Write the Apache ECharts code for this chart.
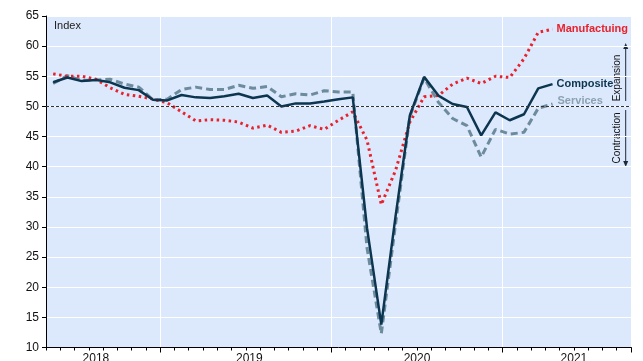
<!DOCTYPE html>
<html>
<head>
<meta charset="utf-8">
<script src="https://cdn.jsdelivr.net/npm/echarts@6/dist/echarts.min.js"></script>
<style>
  html, body {margin: 0; padding: 0; background: #fff;}
  #chart {width: 643px; height: 361px;}
</style>
</head>
<body>
<div id="chart"></div>
<script>
  // months on the axis: May 2018 .. Sep 2021 (data runs to Apr 2021)
  const months = [];
  for (let i = 0; i < 41; i++) {
    const m = (4 + i) % 12 + 1;
    const y = 2018 + Math.floor((4 + i) / 12);
    months.push(y + '-' + (m < 10 ? '0' + m : m));
  }

  const manufacturing = [55.4, 55.0, 55.0, 54.5, 53.1, 52.0, 51.7, 51.2, 50.6, 49.1, 47.6, 47.8,
    47.7, 47.4, 46.4, 46.9, 45.7, 45.9, 46.8, 46.2, 47.7, 49.1, 44.4, 33.7,
    39.4, 47.4, 51.6, 51.8, 53.7, 54.7, 53.8, 55.0, 54.8, 57.9, 62.3, 62.8];
  const composite = [54.0, 54.8, 54.2, 54.4, 54.0, 53.1, 52.7, 51.1, 51.0, 51.9, 51.5, 51.4,
    51.7, 52.1, 51.4, 51.8, 50.0, 50.5, 50.5, 50.8, 51.2, 51.5, 29.8, 13.8,
    31.8, 48.5, 54.9, 51.8, 50.4, 49.9, 45.2, 49.0, 47.7, 48.7, 53.0, 53.7];
  const services = [53.8, 55.1, 54.3, 54.4, 54.5, 53.7, 53.2, 51.1, 51.2, 52.8, 53.2, 52.8,
    52.8, 53.5, 53.0, 53.3, 51.6, 52.1, 51.9, 52.6, 52.4, 52.4, 26.5, 12.3,
    30.5, 48.3, 54.7, 50.7, 48.0, 46.8, 41.6, 46.2, 45.4, 45.7, 49.7, 50.4];

  const yearLabels = {'3.5': '2018', '14.25': '2019', '26': '2020', '37': '2021'};
  const yearStarts = [8, 20, 32];

  const font = 'Liberation Sans, Arial, sans-serif';
  const arrowColor = '#1c2b3a';

  const option = {
    animation: false,
    backgroundColor: '#ffffff',
    grid: {
      left: 46, top: 16, width: 585, height: 331.5,
      outerBoundsMode: 'none',
      show: true, backgroundColor: '#dce8fb', borderWidth: 0
    },
    xAxis: [
      {
        type: 'category',
        data: months,
        boundaryGap: true,
        axisLine: {show: true, lineStyle: {color: '#000', width: 1}},
        axisTick: {show: true, interval: 0, length: 3, lineStyle: {color: '#000'}},
        axisLabel: {show: false},
        splitLine: {
          show: true,
          interval: (idx) => yearStarts.indexOf(idx) >= 0,
          lineStyle: {color: '#ffffff', width: 1}
        }
      },
      {
        type: 'category',
        data: months,
        boundaryGap: true,
        position: 'bottom',
        axisLine: {show: false},
        axisTick: {
          show: true,
          interval: (idx) => yearStarts.indexOf(idx) >= 0,
          length: 5,
          lineStyle: {color: '#000'}
        },
        axisLabel: {show: false},
        splitLine: {show: false}
      },
      {
        type: 'value',
        min: 0, max: 41, interval: 0.25,
        position: 'bottom',
        axisLine: {show: false},
        axisTick: {show: false},
        splitLine: {show: false},
        axisLabel: {
          show: true, margin: 5, color: '#111', fontSize: 12, fontFamily: font,
          formatter: (v) => {
            for (const k in yearLabels) {
              if (Math.abs(v - parseFloat(k)) < 0.01) return yearLabels[k];
            }
            return '';
          }
        }
      }
    ],
    yAxis: {
      type: 'value',
      min: 10, max: 65, interval: 5,
      axisLine: {show: true, lineStyle: {color: '#000', width: 1}},
      axisTick: {show: true, length: 4, lineStyle: {color: '#000'}},
      axisLabel: {color: '#111', fontSize: 12, fontFamily: font, margin: 7},
      splitLine: {show: true, lineStyle: {color: '#ffffff', width: 1}}
    },
    series: [
      {
        name: 'Services',
        type: 'line',
        data: services,
        symbol: 'none',
        lineStyle: {color: '#6c8b9d', width: 3, type: [7, 4]},
        endLabel: {
          show: true, formatter: '{a}', color: '#8ba2b3', fontWeight: 'bold',
          fontSize: 11, fontFamily: font, distance: 5, offset: [0, -3]
        },
        markLine: {
          silent: true,
          symbol: 'none',
          label: {show: false},
          lineStyle: {color: '#333', width: 1, type: [3, 2]},
          data: [{yAxis: 50}]
        }
      },
      {
        name: 'Manufactuing',
        type: 'line',
        data: manufacturing,
        symbol: 'none',
        lineStyle: {color: '#e8222c', width: 3, type: [2.5, 3.5]},
        endLabel: {
          show: true, formatter: '{a}', color: '#e8222c', fontWeight: 'bold',
          fontSize: 11, fontFamily: font, distance: 4
        }
      },
      {
        name: 'Composite',
        type: 'line',
        data: composite,
        symbol: 'none',
        lineStyle: {color: '#0c3550', width: 2.5},
        endLabel: {
          show: true, formatter: '{a}', color: '#0c3550', fontWeight: 'bold',
          fontSize: 11, fontFamily: font, distance: 4
        }
      }
    ],
    graphic: [
      {
        type: 'text', left: 54, top: 20,
        style: {text: 'Index', font: '11px ' + font, fill: '#222'}
      },
      // Expansion / Contraction markers on the right
      {
        type: 'line', shape: {x1: 625.7, y1: 101, x2: 625.7, y2: 47},
        style: {stroke: arrowColor, lineWidth: 1}
      },
      {
        type: 'polygon', shape: {points: [[625.7, 43], [623.2, 49], [628.2, 49]]},
        style: {fill: arrowColor}
      },
      {
        type: 'line', shape: {x1: 625.7, y1: 110, x2: 625.7, y2: 163},
        style: {stroke: arrowColor, lineWidth: 1}
      },
      {
        type: 'polygon', shape: {points: [[625.7, 167], [623.2, 161], [628.2, 161]]},
        style: {fill: arrowColor}
      },
      {
        type: 'text', x: 617, y: 78, rotation: Math.PI / 2,
        style: {
          text: 'Expansion', font: '10px ' + font, fill: '#111',
          textAlign: 'center', textVerticalAlign: 'middle'
        }
      },
      {
        type: 'text', x: 617, y: 138, rotation: Math.PI / 2,
        style: {
          text: 'Contraction', font: '10px ' + font, fill: '#111',
          textAlign: 'center', textVerticalAlign: 'middle'
        }
      }
    ]
  };

  echarts.init(document.getElementById('chart')).setOption(option);
</script>
</body>
</html>
